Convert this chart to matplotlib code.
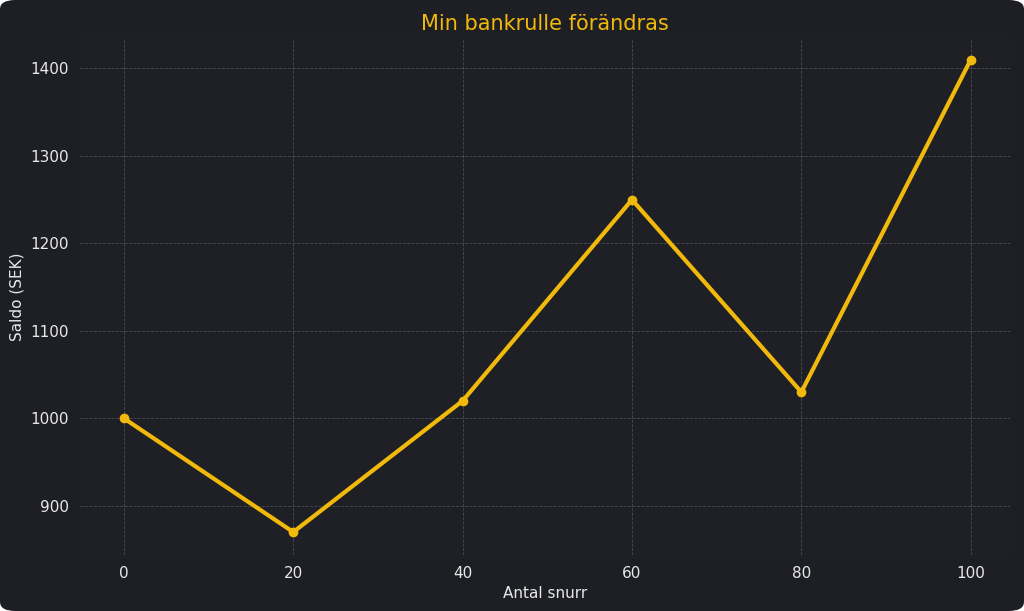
import matplotlib
matplotlib.use("Agg")
import matplotlib.pyplot as plt
from matplotlib.patches import FancyBboxPatch

plt.rcParams['font.family'] = ['DejaVu Sans']

spins = [0, 20, 40, 60, 80, 100]
balance = [1000, 870, 1020, 1250, 1030, 1410]

bg = "#1e1f25"
gold = "#f0b90b"
fig = plt.figure(figsize=(10.24, 6.11), dpi=100)
fig.patch.set_alpha(0)
fig.patches.append(FancyBboxPatch((0, 0), 1, 1, boxstyle="round,pad=0,rounding_size=0.015",
                                  transform=fig.transFigure, facecolor=bg, edgecolor="none", zorder=-10))
ax = fig.add_axes([0.078, 0.092, 0.908, 0.846])
ax.set_facecolor("#1f2026")
ax.plot(spins, balance, color=gold, lw=3, marker="o", ms=6)
ax.set_xlim(-5.2, 104.6)
ax.set_ylim(844, 1435)
ax.set_xticks(spins)
ax.set_yticks([900, 1000, 1100, 1200, 1300, 1400])
ax.grid(True, color="#4a4c53", ls="--", lw=0.6)
for s in ax.spines.values():
    s.set_visible(False)
ax.tick_params(colors="#e8e8e8", labelsize=11, length=0, pad=8)
ax.set_xlabel("Antal snurr", color="#e8e8e8", fontsize=11, labelpad=4)
ax.set_ylabel("Saldo (SEK)", color="#e8e8e8", fontsize=11)
ax.set_title("Min bankrulle förändras", color=gold, fontsize=15, pad=6)
fig.savefig("out.png", dpi=100)
